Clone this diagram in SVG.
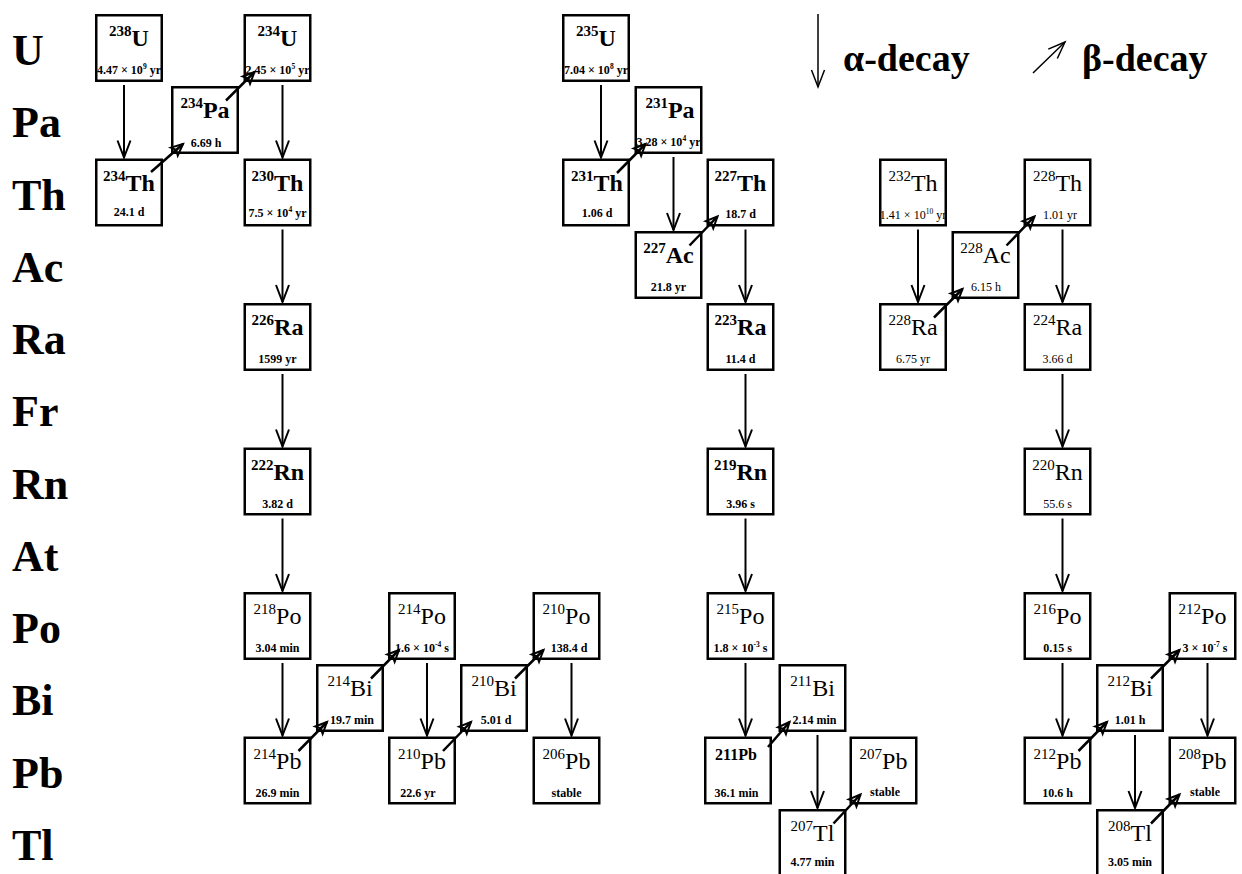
<svg xmlns="http://www.w3.org/2000/svg" width="1242" height="874" viewBox="0 0 1242 874">
<style>
.box{fill:none;stroke:#000;stroke-width:2.5}
.t{font-family:"Liberation Serif","Times New Roman",serif;text-anchor:middle;fill:#000}
.b{font-weight:bold}
.sup{font-size:15px}
.el{font-size:24px}
.hl{font-size:12px}
.hs{font-size:7.5px}
.lbl{font-family:"Liberation Serif","Times New Roman",serif;font-size:44px;font-weight:bold;fill:#000}
.leg{font-family:"Liberation Serif","Times New Roman",serif;font-size:38px;font-weight:bold;fill:#000}
.al{stroke:#000;stroke-width:2;fill:none;marker-end:url(#ah)}
.bl{stroke:#000;stroke-width:2.5;fill:none;marker-end:url(#bh)}
</style>
<defs>
<marker id="ah" markerUnits="userSpaceOnUse" orient="auto" markerWidth="20" markerHeight="14" refX="18" refY="7" viewBox="0 0 20 14" style="overflow:visible"><path d="M1,0.5 L18,7 L1,13.5" fill="none" stroke="#000" stroke-width="2"/></marker>
<marker id="bh" markerUnits="userSpaceOnUse" orient="auto" markerWidth="14" markerHeight="12" refX="12" refY="6" viewBox="0 0 14 12" style="overflow:visible"><path d="M12,6 L0.5,0.8 L3,6 L0.5,11.2 Z" fill="none" stroke="#000" stroke-width="2"/></marker>
<marker id="lh" markerUnits="userSpaceOnUse" orient="auto" markerWidth="20" markerHeight="14" refX="18" refY="7" viewBox="0 0 20 14" style="overflow:visible"><path d="M1,0.5 L18,7 L1,13.5" fill="none" stroke="#000" stroke-width="1.5"/></marker>
</defs>
<rect width="1242" height="874" fill="#fff"/>

<g id="rowlabels">
<text class="lbl" x="12" y="65">U</text>
<text class="lbl" x="12" y="137">Pa</text>
<text class="lbl" x="12" y="209.5">Th</text>
<text class="lbl" x="12" y="282">Ac</text>
<text class="lbl" x="12" y="354">Ra</text>
<text class="lbl" x="12" y="426">Fr</text>
<text class="lbl" x="12" y="498.5">Rn</text>
<text class="lbl" x="12" y="571">At</text>
<text class="lbl" x="12" y="643">Po</text>
<text class="lbl" x="12" y="715">Bi</text>
<text class="lbl" x="12" y="787.5">Pb</text>
<text class="lbl" x="12" y="860">Tl</text>
</g>

<g id="legend">
<path d="M818,14 V87" stroke="#000" stroke-width="1.5" fill="none" marker-end="url(#lh)"/>
<text class="leg" x="843" y="71">α-decay</text>
<path d="M1033,73 L1065,42" stroke="#000" stroke-width="1.5" fill="none" marker-end="url(#lh)"/>
<text class="leg" x="1082" y="71">β-decay</text>
</g>

<!-- U-238 series -->
<g id="n238U"><rect class="box" x="96.25" y="15.25" width="65.5" height="65.5"/><text class="t b" x="129" y="46"><tspan class="sup" dy="-10">238</tspan><tspan class="el" dy="10">U</tspan></text><text class="t b hl" x="129" y="74">4.47 × 10<tspan class="hs" dy="-5">9</tspan><tspan dy="5"> yr</tspan></text></g>
<g id="n234Th"><rect class="box" x="96.25" y="159.75" width="65.5" height="65.5"/><text class="t b" x="129" y="190.5"><tspan class="sup" dy="-10">234</tspan><tspan class="el" dy="10">Th</tspan></text><text class="t b hl" x="129" y="216">24.1 d</text></g>
<g id="n234Pa"><rect class="box" x="172.25" y="87.25" width="65.5" height="65.5"/><text class="t b" x="205" y="118"><tspan class="sup" dy="-10">234</tspan><tspan class="el" dy="10">Pa</tspan></text><text class="t b hl" x="206" y="147">6.69 h</text></g>
<g id="n234U"><rect class="box" x="244.75" y="15.25" width="65.5" height="65.5"/><text class="t b" x="277.5" y="46"><tspan class="sup" dy="-10">234</tspan><tspan class="el" dy="10">U</tspan></text><text class="t b hl" x="277.5" y="74">2.45 × 10<tspan class="hs" dy="-5">5</tspan><tspan dy="5"> yr</tspan></text></g>
<g id="n230Th"><rect class="box" x="244.75" y="159.75" width="65.5" height="65.5"/><text class="t b" x="277.5" y="190.5"><tspan class="sup" dy="-10">230</tspan><tspan class="el" dy="10">Th</tspan></text><text class="t b hl" x="277.5" y="217">7.5 × 10<tspan class="hs" dy="-5">4</tspan><tspan dy="5"> yr</tspan></text></g>
<g id="n226Ra"><rect class="box" x="244.75" y="304.25" width="65.5" height="65.5"/><text class="t b" x="277.5" y="335"><tspan class="sup" dy="-10">226</tspan><tspan class="el" dy="10">Ra</tspan></text><text class="t b hl" x="277.5" y="363">1599 yr</text></g>
<g id="n222Rn"><rect class="box" x="244.75" y="448.75" width="65.5" height="65.5"/><text class="t b" x="277.5" y="479.5"><tspan class="sup" dy="-10">222</tspan><tspan class="el" dy="10">Rn</tspan></text><text class="t b hl" x="277.5" y="507.5">3.82 d</text></g>
<g id="n218Po"><rect class="box" x="244.75" y="593.25" width="65.5" height="65.5"/><text class="t" x="277.5" y="624"><tspan class="sup" dy="-10">218</tspan><tspan class="el" dy="10">Po</tspan></text><text class="t b hl" x="277.5" y="652">3.04 min</text></g>
<g id="n214Pb"><rect class="box" x="244.75" y="737.75" width="65.5" height="65.5"/><text class="t" x="277.5" y="768.5"><tspan class="sup" dy="-10">214</tspan><tspan class="el" dy="10">Pb</tspan></text><text class="t b hl" x="277.5" y="796.5">26.9 min</text></g>
<g id="n214Bi"><rect class="box" x="317.25" y="665.25" width="65.5" height="65.5"/><text class="t" x="350" y="696"><tspan class="sup" dy="-10">214</tspan><tspan class="el" dy="10">Bi</tspan></text><text class="t b hl" x="352" y="724">19.7 min</text></g>
<g id="n214Po"><rect class="box" x="389.25" y="593.25" width="65.5" height="65.5"/><text class="t" x="422" y="624"><tspan class="sup" dy="-10">214</tspan><tspan class="el" dy="10">Po</tspan></text><text class="t b hl" x="422" y="652">1.6 × 10<tspan class="hs" dy="-5">-4</tspan><tspan dy="5"> s</tspan></text></g>
<g id="n210Pb"><rect class="box" x="389.25" y="737.75" width="65.5" height="65.5"/><text class="t" x="422" y="768.5"><tspan class="sup" dy="-10">210</tspan><tspan class="el" dy="10">Pb</tspan></text><text class="t b hl" x="418" y="796.5">22.6 yr</text></g>
<g id="n210Bi"><rect class="box" x="461.25" y="665.25" width="65.5" height="65.5"/><text class="t" x="494" y="696"><tspan class="sup" dy="-10">210</tspan><tspan class="el" dy="10">Bi</tspan></text><text class="t b hl" x="496" y="724">5.01 d</text></g>
<g id="n210Po"><rect class="box" x="533.75" y="593.25" width="65.5" height="65.5"/><text class="t" x="566.5" y="624"><tspan class="sup" dy="-10">210</tspan><tspan class="el" dy="10">Po</tspan></text><text class="t b hl" x="569" y="652">138.4 d</text></g>
<g id="n206Pb"><rect class="box" x="533.75" y="737.75" width="65.5" height="65.5"/><text class="t" x="566.5" y="768.5"><tspan class="sup" dy="-10">206</tspan><tspan class="el" dy="10">Pb</tspan></text><text class="t b hl" x="566.5" y="796.5">stable</text></g>

<!-- U-235 series -->
<g id="n235U"><rect class="box" x="563.25" y="15.25" width="65.5" height="65.5"/><text class="t b" x="596" y="46"><tspan class="sup" dy="-10">235</tspan><tspan class="el" dy="10">U</tspan></text><text class="t b hl" x="596" y="74">7.04 × 10<tspan class="hs" dy="-5">8</tspan><tspan dy="5"> yr</tspan></text></g>
<g id="n231Th"><rect class="box" x="563.25" y="159.75" width="65.5" height="65.5"/><text class="t b" x="597" y="190.5"><tspan class="sup" dy="-10">231</tspan><tspan class="el" dy="10">Th</tspan></text><text class="t b hl" x="597" y="217">1.06 d</text></g>
<g id="n231Pa"><rect class="box" x="635.75" y="87.25" width="65.5" height="65.5"/><text class="t b" x="670" y="118"><tspan class="sup" dy="-10">231</tspan><tspan class="el" dy="10">Pa</tspan></text><text class="t b hl" x="668.5" y="146">3.28 × 10<tspan class="hs" dy="-5">4</tspan><tspan dy="5"> yr</tspan></text></g>
<g id="n227Ac"><rect class="box" x="635.75" y="232.25" width="65.5" height="65.5"/><text class="t b" x="668.5" y="263"><tspan class="sup" dy="-10">227</tspan><tspan class="el" dy="10">Ac</tspan></text><text class="t b hl" x="668.5" y="291">21.8 yr</text></g>
<g id="n227Th"><rect class="box" x="707.75" y="159.75" width="65.5" height="65.5"/><text class="t b" x="740.5" y="190.5"><tspan class="sup" dy="-10">227</tspan><tspan class="el" dy="10">Th</tspan></text><text class="t b hl" x="740.5" y="218">18.7 d</text></g>
<g id="n223Ra"><rect class="box" x="707.75" y="304.25" width="65.5" height="65.5"/><text class="t b" x="740.5" y="335"><tspan class="sup" dy="-10">223</tspan><tspan class="el" dy="10">Ra</tspan></text><text class="t b hl" x="740.5" y="363">11.4 d</text></g>
<g id="n219Rn"><rect class="box" x="707.75" y="448.75" width="65.5" height="65.5"/><text class="t b" x="740.5" y="479.5"><tspan class="sup" dy="-10">219</tspan><tspan class="el" dy="10">Rn</tspan></text><text class="t b hl" x="740.5" y="507.5">3.96 s</text></g>
<g id="n215Po"><rect class="box" x="707.75" y="593.25" width="65.5" height="65.5"/><text class="t" x="740.5" y="624"><tspan class="sup" dy="-10">215</tspan><tspan class="el" dy="10">Po</tspan></text><text class="t b hl" x="740.5" y="652">1.8 × 10<tspan class="hs" dy="-5">-3</tspan><tspan dy="5"> s</tspan></text></g>
<g id="n211Pb"><rect class="box" x="705.25" y="737.75" width="65.5" height="65.5"/><text class="t b" x="736" y="760" font-size="16">211Pb</text><text class="t b hl" x="736.5" y="796.5">36.1 min</text></g>
<g id="n211Bi"><rect class="box" x="779.75" y="665.25" width="65.5" height="65.5"/><text class="t" x="812.5" y="696"><tspan class="sup" dy="-10">211</tspan><tspan class="el" dy="10">Bi</tspan></text><text class="t b hl" x="814.5" y="724">2.14 min</text></g>
<g id="n207Tl"><rect class="box" x="779.75" y="810.25" width="65.5" height="65.5"/><text class="t" x="812.5" y="841"><tspan class="sup" dy="-10">207</tspan><tspan class="el" dy="10">Tl</tspan></text><text class="t b hl" x="812.5" y="866">4.77 min</text></g>
<g id="n207Pb"><rect class="box" x="850.75" y="737.75" width="65.5" height="65.5"/><text class="t" x="883.5" y="768.5"><tspan class="sup" dy="-10">207</tspan><tspan class="el" dy="10">Pb</tspan></text><text class="t b hl" x="885" y="796">stable</text></g>

<!-- Th-232 series -->
<g id="n232Th"><rect class="box" x="880.25" y="159.75" width="65.5" height="65.5"/><text class="t" x="913" y="190.5"><tspan class="sup" dy="-10">232</tspan><tspan class="el" dy="10">Th</tspan></text><text class="t hl" x="913" y="219">1.41 × 10<tspan class="hs" dy="-5">10</tspan><tspan dy="5"> yr</tspan></text></g>
<g id="n228Ra"><rect class="box" x="880.25" y="304.25" width="65.5" height="65.5"/><text class="t" x="913" y="335"><tspan class="sup" dy="-10">228</tspan><tspan class="el" dy="10">Ra</tspan></text><text class="t hl" x="913" y="363">6.75 yr</text></g>
<g id="n228Ac"><rect class="box" x="952.75" y="232.25" width="65.5" height="65.5"/><text class="t" x="985.5" y="263"><tspan class="sup" dy="-10">228</tspan><tspan class="el" dy="10">Ac</tspan></text><text class="t hl" x="986" y="291">6.15 h</text></g>
<g id="n228Th"><rect class="box" x="1024.75" y="159.75" width="65.5" height="65.5"/><text class="t" x="1057.5" y="190.5"><tspan class="sup" dy="-10">228</tspan><tspan class="el" dy="10">Th</tspan></text><text class="t hl" x="1060" y="219">1.01 yr</text></g>
<g id="n224Ra"><rect class="box" x="1024.75" y="304.25" width="65.5" height="65.5"/><text class="t" x="1057.5" y="335"><tspan class="sup" dy="-10">224</tspan><tspan class="el" dy="10">Ra</tspan></text><text class="t hl" x="1057.5" y="363">3.66 d</text></g>
<g id="n220Rn"><rect class="box" x="1024.75" y="448.75" width="65.5" height="65.5"/><text class="t" x="1057.5" y="479.5"><tspan class="sup" dy="-10">220</tspan><tspan class="el" dy="10">Rn</tspan></text><text class="t hl" x="1057.5" y="507.5">55.6 s</text></g>
<g id="n216Po"><rect class="box" x="1024.75" y="593.25" width="65.5" height="65.5"/><text class="t" x="1057.5" y="624"><tspan class="sup" dy="-10">216</tspan><tspan class="el" dy="10">Po</tspan></text><text class="t b hl" x="1057.5" y="652">0.15 s</text></g>
<g id="n212Pb"><rect class="box" x="1024.75" y="737.75" width="65.5" height="65.5"/><text class="t" x="1057.5" y="768.5"><tspan class="sup" dy="-10">212</tspan><tspan class="el" dy="10">Pb</tspan></text><text class="t b hl" x="1057.5" y="796.5">10.6 h</text></g>
<g id="n212Bi"><rect class="box" x="1097.25" y="665.25" width="65.5" height="65.5"/><text class="t" x="1130" y="696"><tspan class="sup" dy="-10">212</tspan><tspan class="el" dy="10">Bi</tspan></text><text class="t b hl" x="1130" y="724">1.01 h</text></g>
<g id="n208Tl"><rect class="box" x="1097.25" y="810.25" width="65.5" height="65.5"/><text class="t" x="1130" y="841"><tspan class="sup" dy="-10">208</tspan><tspan class="el" dy="10">Tl</tspan></text><text class="t b hl" x="1130" y="866">3.05 min</text></g>
<g id="n212Po"><rect class="box" x="1169.75" y="593.25" width="65.5" height="65.5"/><text class="t" x="1202.5" y="624"><tspan class="sup" dy="-10">212</tspan><tspan class="el" dy="10">Po</tspan></text><text class="t b hl" x="1205" y="652">3 × 10<tspan class="hs" dy="-5">-7</tspan><tspan dy="5"> s</tspan></text></g>
<g id="n208Pb"><rect class="box" x="1169.75" y="737.75" width="65.5" height="65.5"/><text class="t" x="1202.5" y="768.5"><tspan class="sup" dy="-10">208</tspan><tspan class="el" dy="10">Pb</tspan></text><text class="t b hl" x="1205" y="796">stable</text></g>

<g id="connectors">
<!-- alpha decays -->
<path class="al" d="M124,85 V157.5"/>
<path class="al" d="M282.5,85 V157.5"/>
<path class="al" d="M282.5,229.5 V302"/>
<path class="al" d="M282.5,374 V446.5"/>
<path class="al" d="M282.5,518.5 V591"/>
<path class="al" d="M282.5,663 V735.5"/>
<path class="al" d="M427,663 V735.5"/>
<path class="al" d="M571.5,663 V735.5"/>
<path class="al" d="M601,85 V157.5"/>
<path class="al" d="M673.5,157 V230"/>
<path class="al" d="M745.5,229.5 V302"/>
<path class="al" d="M745.5,374 V446.5"/>
<path class="al" d="M745.5,518.5 V591"/>
<path class="al" d="M745.5,663 V735.5"/>
<path class="al" d="M817.5,735 V808"/>
<path class="al" d="M918,229.5 V302"/>
<path class="al" d="M1062.5,229.5 V302"/>
<path class="al" d="M1062.5,374 V446.5"/>
<path class="al" d="M1062.5,518.5 V591"/>
<path class="al" d="M1062.5,663 V735.5"/>
<path class="al" d="M1135,735 V808"/>
<path class="al" d="M1207.5,663 V735.5"/>
<!-- beta decays -->
<path class="bl" d="M151,172 L183,144"/>
<path class="bl" d="M226,100.5 L254.5,72"/>
<path class="bl" d="M298.5,751 L327,722"/>
<path class="bl" d="M371,678.5 L399,650"/>
<path class="bl" d="M443,751 L471,722"/>
<path class="bl" d="M515,678.5 L543.5,650"/>
<path class="bl" d="M617,173 L645.5,144"/>
<path class="bl" d="M689.5,245.5 L717.5,216.5"/>
<path class="bl" d="M768,747 L789.5,722"/>
<path class="bl" d="M833.5,823.5 L860.5,794.5"/>
<path class="bl" d="M934,317.5 L962.5,289"/>
<path class="bl" d="M1006.5,245.5 L1034.5,216.5"/>
<path class="bl" d="M1078.5,751 L1107,722"/>
<path class="bl" d="M1151,678.5 L1179.5,650"/>
<path class="bl" d="M1151,823.5 L1179.5,794.5"/>
</g>
</svg>
